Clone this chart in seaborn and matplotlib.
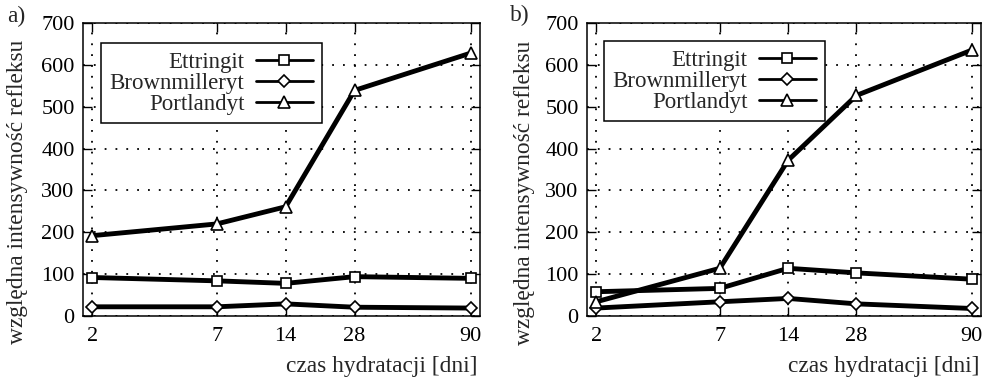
import matplotlib
matplotlib.use("Agg")
import matplotlib.pyplot as plt
import seaborn as sns
import pandas as pd
from matplotlib.ticker import FixedLocator, FixedFormatter, NullLocator

# ---- data ----
days = [2, 7, 14, 28, 90]
series_names = ["Ettringit", "Brownmilleryt", "Portlandyt"]
a_ettringit = [92, 84, 78, 94, 90]
a_brownmilleryt = [22, 22, 29, 21, 19]
a_portlandyt = [192, 220, 261, 539, 628]
b_ettringit = [58, 66, 114, 103, 88]
b_brownmilleryt = [19, 34, 42, 29, 18]
b_portlandyt = [34, 114, 372, 527, 635]
y_ticks = [0, 100, 200, 300, 400, 500, 600, 700]
x_label = "czas hydratacji [dni]"
y_label = "względna intensywność refleksu"
panel_labels = ["a)", "b)"]

sns.set_style("ticks")
plt.rcParams["font.family"] = ["Liberation Serif", "DejaVu Serif"]
FS_TICK = 16
FS_LAB = 16.8
FS_LEG = 16.5

fig = plt.figure(figsize=(9.94, 3.79), dpi=100)
ax1 = fig.add_axes([0.0835, 0.1662, 0.3994, 0.7731])
ax2 = fig.add_axes([0.5905, 0.1662, 0.3964, 0.7731])

markers = {"Ettringit": ("s", 7), "Brownmilleryt": ("D", 6.5), "Portlandyt": ("^", 9)}

panels = [
    (ax1, [a_ettringit, a_brownmilleryt, a_portlandyt], (0.045, 0.932)),
    (ax2, [b_ettringit, b_brownmilleryt, b_portlandyt], (0.043, 0.939)),
]

for ax, vals, leg_anchor in panels:
    for name, v in zip(series_names, vals):
        df = pd.DataFrame({"days": days, "value": v})
        m, ms = markers[name]
        sns.lineplot(data=df, x="days", y="value", ax=ax, color="black",
                     marker=m, markersize=ms, markerfacecolor="white",
                     markeredgecolor="black", markeredgewidth=1.2,
                     linewidth=3.5, label=name, zorder=3)
    ax.set_xscale("log")
    ax.set_xlim(1.82, 99)
    ax.set_ylim(0, 700)
    ax.xaxis.set_major_locator(FixedLocator(days))
    ax.xaxis.set_major_formatter(FixedFormatter([str(d) for d in days]))
    ax.xaxis.set_minor_locator(NullLocator())
    ax.set_yticks(y_ticks)
    ax.set_xlabel("")
    ax.set_ylabel("")
    ax.grid(True, color="black", linestyle=(0, (1, 5)), linewidth=1.3, zorder=1)
    ax.tick_params(axis="both", which="major", direction="in", length=6.5,
                   width=1, top=True, right=True, labelsize=FS_TICK, colors="black")
    ax.tick_params(axis="y", pad=6)
    ax.tick_params(axis="x", pad=8)
    for sp in ax.spines.values():
        sp.set_visible(True)
        sp.set_color("black")
        sp.set_linewidth(1.1)
    leg = ax.legend(loc="upper left", bbox_to_anchor=leg_anchor, borderaxespad=0,
                    markerfirst=False, fontsize=FS_LEG, frameon=True, fancybox=False,
                    framealpha=1, edgecolor="black", handlelength=2.5,
                    handletextpad=0.5, labelspacing=0.0, borderpad=0.38)
    leg.get_frame().set_linewidth(1.1)
    leg.set_zorder(5)
    for ln in leg.get_lines():
        ln.set_linewidth(2)

fig.text(0.018, 0.493, y_label, rotation=90, ha="center", va="center", fontsize=FS_LAB)
fig.text(0.528, 0.49, y_label, rotation=90, ha="center", va="center", fontsize=FS_LAB)
fig.text(16 / 994, 1 - 16 / 379, panel_labels[0], ha="center", va="center", fontsize=FS_LAB)
fig.text(520 / 994, 1 - 15 / 379, panel_labels[1], ha="center", va="center", fontsize=FS_LAB)
fig.text(477 / 994, 0.032, x_label, ha="right", va="center", fontsize=FS_LAB)
fig.text(980 / 994, 0.032, x_label, ha="right", va="center", fontsize=FS_LAB)

fig.savefig("out.png", dpi=100, facecolor="white")
